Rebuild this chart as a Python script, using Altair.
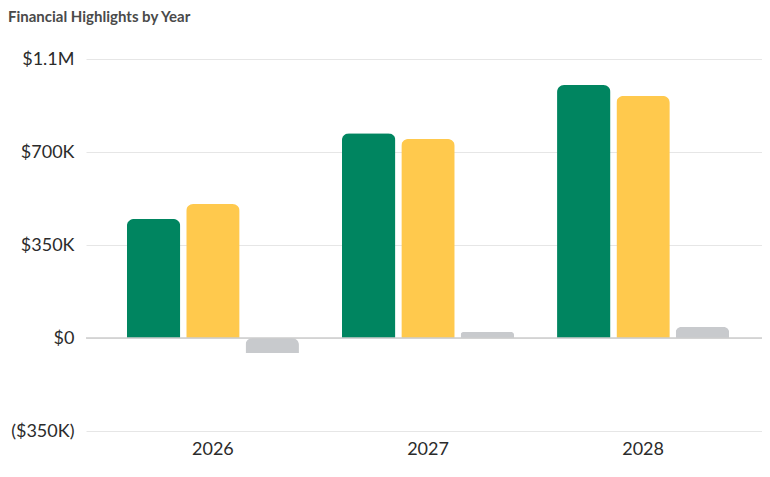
import altair as alt
import pandas as pd

years = ["2026", "2027", "2028"]
series = ["Revenue", "Expenses", "Net Income"]
revenue = [448000, 771000, 952000]
expenses = [504000, 749000, 911000]
net_income = [-56000, 23000, 41000]
colors = ["#008560", "#FFC94D", "#C8CACD"]
y_ticks = [-350000, 0, 350000, 700000, 1050000]

rows = []
for i, y in enumerate(years):
    for s, vals in zip(series, [revenue, expenses, net_income]):
        rows.append({"year": y, "series": s, "value": vals[i]})
df = pd.DataFrame(rows)

label_expr = (
    "datum.value == 0 ? '$0' : datum.value < 0 ? '($' + format(-datum.value/1000, 'd') + 'K)' : "
    "datum.value >= 1000000 ? '$' + format(datum.value/1000000, '.1f') + 'M' : "
    "'$' + format(datum.value/1000, 'd') + 'K'"
)

FONT = "Lato"

bars = alt.Chart(df).mark_bar(cornerRadiusEnd=7).encode(
    x=alt.X("year:N", sort=years, title=None,
            scale=alt.Scale(paddingInner=0.2, paddingOuter=0.19),
            axis=alt.Axis(labelAngle=0, labelFontSize=18, labelColor="#2B2B2B",
                          labelFont=FONT, ticks=False, domain=False, labelPadding=9)),
    xOffset=alt.XOffset("series:N", sort=series,
                        scale=alt.Scale(paddingInner=0.1, paddingOuter=0)),
    y=alt.Y("value:Q", title=None,
            scale=alt.Scale(domain=[-350000, 1050000], nice=False),
            axis=alt.Axis(values=y_ticks, labelExpr=label_expr, labelFontSize=18,
                          labelColor="#2B2B2B", labelFont=FONT, ticks=False, domain=False,
                          labelPadding=12, gridColor="#E6E6E6", gridWidth=1)),
    color=alt.Color("series:N", sort=series,
                    scale=alt.Scale(domain=series, range=colors), legend=None),
)

zero = alt.Chart(pd.DataFrame({"z": [0]})).mark_rule(color="#CCCCCC", strokeWidth=1.5).encode(
    y="z:Q"
)

chart = alt.layer(bars, zero).properties(
    width=684,
    height=372,
    autosize=alt.AutoSizeParams(type="none"),
    padding={"left": 78, "top": 51, "right": -8, "bottom": 30},
    title=alt.TitleParams(
        "Financial Highlights by Year", anchor="start", frame="group",
        fontSize=15, fontWeight="bold", color="#4A4A4A", font=FONT,
        dx=-78, offset=25,
    ),
).configure_view(stroke=None)

chart.save("out.html", embed_options={"renderer": "svg", "actions": False})
